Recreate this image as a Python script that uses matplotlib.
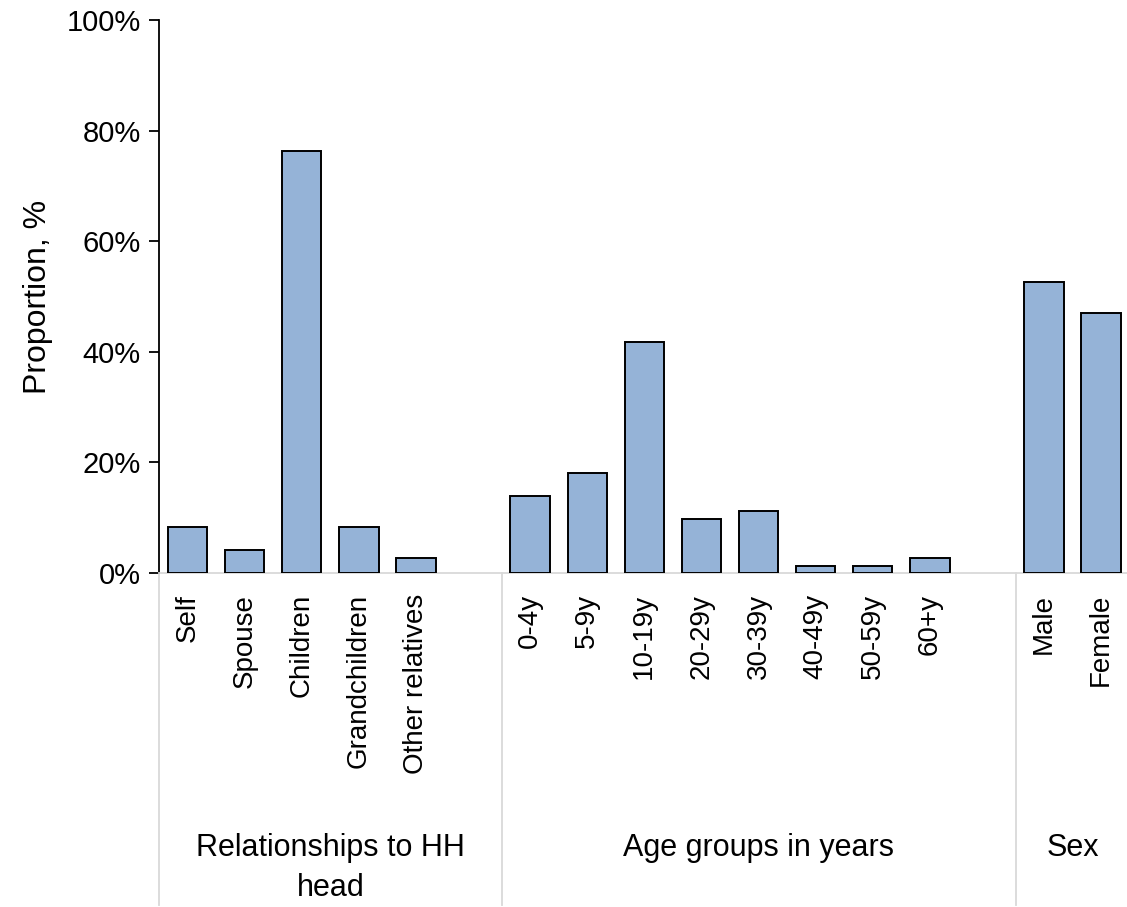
import matplotlib
matplotlib.use("Agg")
import matplotlib.pyplot as plt
import matplotlib.transforms as mtransforms
from matplotlib.ticker import PercentFormatter

# 数据：三组类别及对应比例
relation_labels = ["Self", "Spouse", "Children", "Grandchildren", "Other relatives"]
relation_values = [8.3, 4.1, 76.3, 8.3, 2.8]
age_labels = ["0-4y", "5-9y", "10-19y", "20-29y", "30-39y", "40-49y", "50-59y", "60+y"]
age_values = [13.9, 18.1, 41.7, 9.7, 11.2, 1.3, 1.3, 2.8]
sex_labels = ["Male", "Female"]
sex_values = [52.7, 47.1]
group_names = ["Relationships to HH\nhead", "Age groups in years", "Sex"]

plt.rcParams["font.family"] = ["Liberation Sans", "DejaVu Sans"]
BAR_COLOR = "#95B3D7"
GRID_GRAY = "#D9D9D9"

# 每组后面留一个空位（最后一组除外），与原图一致
groups = [(relation_labels, relation_values), (age_labels, age_values), (sex_labels, sex_values)]
positions, values, labels, bounds = [], [], [], []
pos = 0
for gi, (labs, vals) in enumerate(groups):
    start = pos
    for lab, val in zip(labs, vals):
        positions.append(pos)
        values.append(val)
        labels.append(lab)
        pos += 1
    if gi < len(groups) - 1:
        pos += 1
    bounds.append((start - 0.5, pos - 0.5))
n_slots = pos

fig = plt.figure(figsize=(11.27, 9.07), dpi=100)
slot_px = 57.1
ax = fig.add_axes([159 / 1127, 1 - 573 / 907, n_slots * slot_px / 1127, 553 / 907])

ax.bar(positions, values, width=0.69, color=BAR_COLOR, edgecolor="black", linewidth=1.4, zorder=3)

ax.set_xlim(-0.5, n_slots - 0.5)
ax.set_ylim(0, 100)
ax.set_yticks(range(0, 101, 20))
ax.yaxis.set_major_formatter(PercentFormatter(decimals=0))
ax.tick_params(axis="y", labelsize=21, length=7, width=1.3, direction="out", pad=6)
ax.set_ylabel("Proportion, %", fontsize=23, labelpad=10)

ax.set_xticks(positions)
ax.set_xticklabels(labels, rotation=90, fontsize=20, va="top", ha="center")
ax.tick_params(axis="x", length=0, pad=15)

for side in ["top", "right"]:
    ax.spines[side].set_visible(False)
ax.spines["left"].set_linewidth(1.3)
ax.spines["bottom"].set_color(GRID_GRAY)
ax.spines["bottom"].set_linewidth(1.3)

# 分组分隔线和组名
trans = mtransforms.blended_transform_factory(ax.transData, ax.transAxes)
line_bottom = -(905 - 573) / 553
for (x0, x1), name in zip(bounds, group_names):
    ax.plot([x0, x0], [0, line_bottom], color=GRID_GRAY, lw=1.3, transform=trans, clip_on=False)
    ax.text((x0 + x1) / 2, -(833 - 573) / 553, name, transform=trans, ha="center", va="top",
            fontsize=22, linespacing=1.45)

fig.savefig("out.png", dpi=100)
